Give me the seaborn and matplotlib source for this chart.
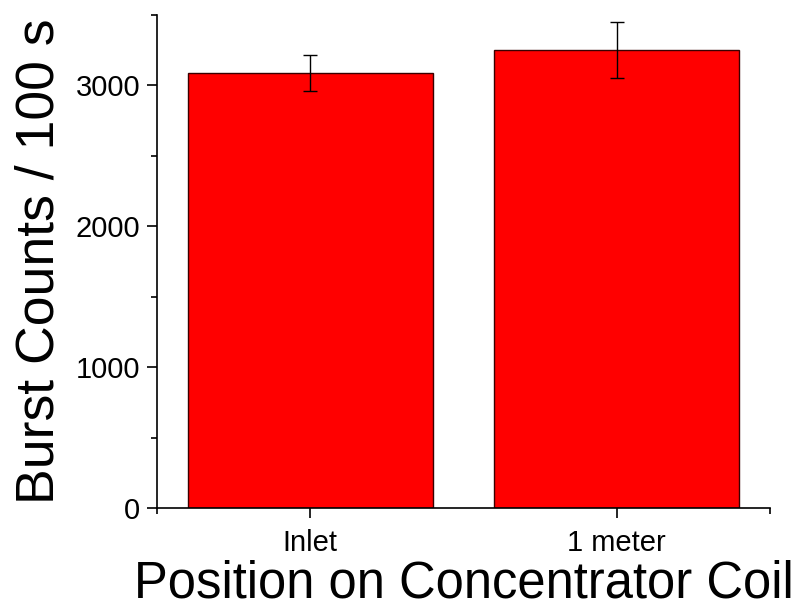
import matplotlib
matplotlib.use("Agg")
import matplotlib.pyplot as plt
import seaborn as sns
import pandas as pd
from matplotlib.ticker import MultipleLocator, FixedLocator

positions = ["Inlet", "1 meter"]
counts = [3090, 3250]
errors = [128, 200]

sns.set_theme(style="ticks")
plt.rcParams['font.family'] = ['Liberation Sans', 'DejaVu Sans']
plt.rcParams['text.color'] = 'black'
plt.rcParams['axes.labelcolor'] = 'black'
plt.rcParams['xtick.color'] = 'black'
plt.rcParams['ytick.color'] = 'black'

df = pd.DataFrame({"Position": positions, "Counts": counts})

fig = plt.figure(figsize=(8.02, 6.07), dpi=100)
ax = fig.add_axes([157/802, 1-508/607, (770-157)/802, (508-15)/607])

sns.barplot(data=df, x="Position", y="Counts", order=positions, color="#ff0000",
            saturation=1, width=0.8, edgecolor="#3a0000", linewidth=1.0,
            errorbar=None, ax=ax)
ax.errorbar(x=range(len(positions)), y=counts, yerr=errors, fmt="none",
            ecolor="black", elinewidth=1.0, capsize=5, capthick=1.0)

ax.set_xlim(-0.5, 1.5)
ax.set_ylim(0, 3500)
ax.yaxis.set_major_locator(MultipleLocator(1000))
ax.yaxis.set_minor_locator(MultipleLocator(500))
ax.xaxis.set_minor_locator(FixedLocator([-0.5, 1.5]))

for side in ["top", "right"]:
    ax.spines[side].set_visible(False)
for side in ["left", "bottom"]:
    ax.spines[side].set_linewidth(1.2)
    ax.spines[side].set_color("black")

ax.tick_params(axis="both", which="major", direction="out", length=7, width=1.2,
               colors="black", labelcolor="black", labelsize=21)
ax.tick_params(axis="both", which="minor", direction="out", length=4, width=1.2,
               colors="black")
ax.tick_params(axis="x", which="major", labelsize=21, pad=8)
ax.tick_params(axis="y", which="major", pad=5)

ax.set_xlabel("Position on Concentrator Coil", fontsize=36.5, labelpad=2, color="black")
ax.set_ylabel("Burst Counts / 100 s", fontsize=38.5, labelpad=8, color="black")

fig.savefig("out.png", dpi=100)
